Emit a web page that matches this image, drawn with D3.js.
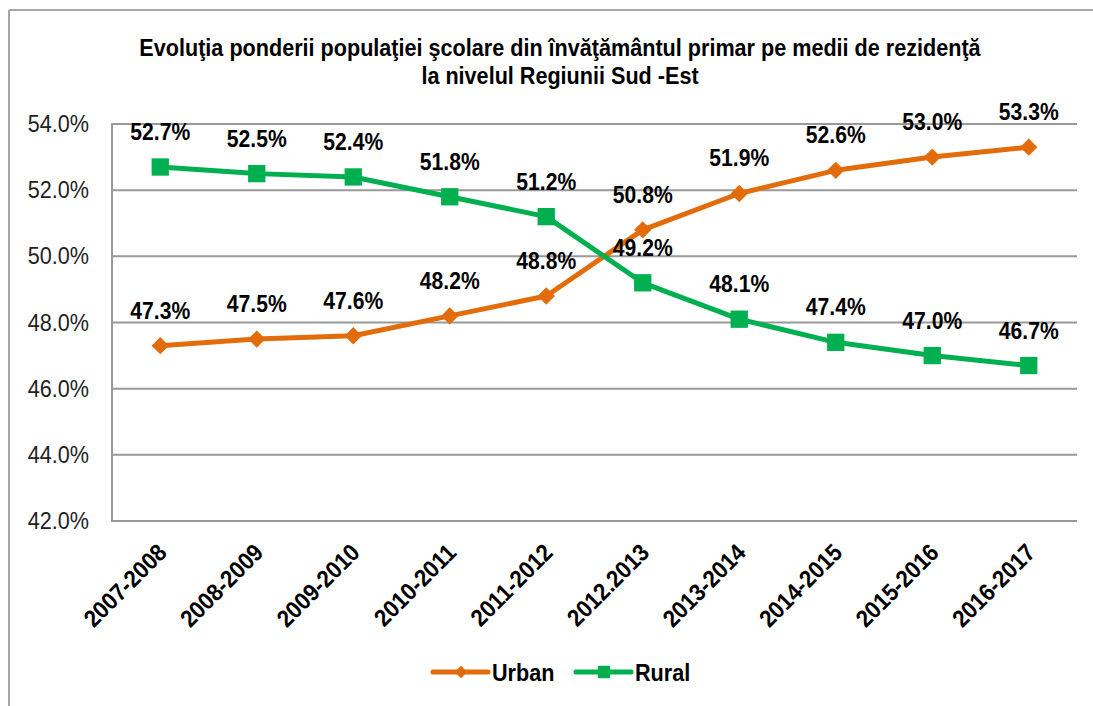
<!DOCTYPE html>
<html>
<head>
<meta charset="utf-8">
<script src="https://cdn.jsdelivr.net/npm/d3@7"></script>
<style>
  body { margin: 0; background: #fff; }
  text { font-family: "Liberation Sans", Arial, sans-serif; }
</style>
</head>
<body>
<script>
var years = ["2007-2008", "2008-2009", "2009-2010", "2010-2011", "2011-2012",
             "2012.2013", "2013-2014", "2014-2015", "2015-2016", "2016-2017"];
var urban = [47.3, 47.5, 47.6, 48.2, 48.8, 50.8, 51.9, 52.6, 53.0, 53.3];
var rural = [52.7, 52.5, 52.4, 51.8, 51.2, 49.2, 48.1, 47.4, 47.0, 46.7];
var y_ticks = [42, 44, 46, 48, 50, 52, 54];

var width = 1093;
var height = 706;
var plot_left = 112, plot_right = 1077, plot_top = 124, plot_bottom = 521;

var svg = d3.select('body').append('svg')
      .attr('width', width)
      .attr('height', height);

// outer frame (only top and left visible)
svg.append('line').attr('x1', 9).attr('x2', width).attr('y1', 10).attr('y2', 10)
    .attr('stroke', '#a6a6a6').attr('stroke-width', 2);
svg.append('line').attr('x1', 9).attr('x2', 9).attr('y1', 10).attr('y2', height)
    .attr('stroke', '#a6a6a6').attr('stroke-width', 2);

var x = d3.scaleBand().domain(years).range([plot_left, plot_right]);
var y = d3.scaleLinear().domain([42, 54]).range([plot_bottom, plot_top]);
var cx = function (i) { return x(years[i]) + x.bandwidth() / 2; };

// gridlines
svg.append('g').selectAll('line')
    .data(y_ticks)
    .enter()
    .append('line')
    .attr('x1', plot_left).attr('x2', plot_right)
    .attr('y1', function (d) { return y(d); })
    .attr('y2', function (d) { return y(d); })
    .attr('stroke', '#999')
    .attr('stroke-width', 2);

svg.append('line').attr('x1', plot_left).attr('x2', plot_left)
    .attr('y1', plot_top - 1).attr('y2', plot_bottom + 1)
    .attr('stroke', '#999').attr('stroke-width', 2);

// y axis labels
svg.append('g').selectAll('text')
    .data(y_ticks)
    .enter()
    .append('text')
    .attr('transform', function (d) {
      return 'translate(89,' + (y(d) + 8) + ') scale(0.9,1)';
    })
    .attr('text-anchor', 'end')
    .attr('font-size', 24)
    .attr('fill', '#222')
    .text(function (d) { return d.toFixed(1) + '%'; });

// x axis labels
svg.append('g').selectAll('text')
    .data(years)
    .enter()
    .append('text')
    .attr('transform', function (d, i) {
      return 'translate(' + (cx(i) + 8) + ',' + (plot_bottom + 33) + ') rotate(-45) scale(0.92,1)';
    })
    .attr('text-anchor', 'end')
    .attr('font-size', 24)
    .attr('font-weight', 'bold')
    .attr('fill', '#000')
    .text(function (d) { return d; });

var series = [
  { name: 'Urban', values: urban, color: '#e36c0a', shape: 'diamond' },
  { name: 'Rural', values: rural, color: '#00b050', shape: 'square' }
];

var marker = function (shape, scale) {
  var size = shape === 'diamond' ? 150 : 300;
  return d3.symbol().type(d3.symbolSquare).size(size * scale * scale)();
};
var marker_rot = function (shape) { return shape === 'diamond' ? ' rotate(45)' : ''; };

var line = d3.line()
    .x(function (d, i) { return cx(i); })
    .y(function (d) { return y(d); });

series.forEach(function (s) {
  svg.append('path')
      .datum(s.values)
      .attr('d', line)
      .attr('fill', 'none')
      .attr('stroke', s.color)
      .attr('stroke-width', 5)
      .attr('stroke-linejoin', 'round');
});

series.forEach(function (s) {
  svg.append('g').selectAll('path')
      .data(s.values)
      .enter()
      .append('path')
      .attr('d', marker(s.shape, 1))
      .attr('transform', function (d, i) {
        return 'translate(' + cx(i) + ',' + y(d) + ')' + marker_rot(s.shape);
      })
      .attr('fill', s.color);
});

// data labels
series.forEach(function (s) {
  svg.append('g').selectAll('text')
      .data(s.values)
      .enter()
      .append('text')
      .attr('transform', function (d, i) {
        return 'translate(' + cx(i) + ',' + (y(d) - 27) + ') scale(0.88,1)';
      })
      .attr('text-anchor', 'middle')
      .attr('font-size', 24)
      .attr('font-weight', 'bold')
      .attr('fill', '#000')
      .text(function (d) { return d.toFixed(1) + '%'; });
});

// title
var title = svg.append('g').attr('transform', 'translate(560,0) scale(0.9,1)');
title.append('text').attr('x', 0).attr('y', 56)
    .attr('text-anchor', 'middle').attr('font-size', 24).attr('font-weight', 'bold')
    .text('Evoluţia ponderii populaţiei şcolare din învăţământul primar pe medii de rezidenţă');
title.append('text').attr('x', 0).attr('y', 84)
    .attr('text-anchor', 'middle').attr('font-size', 24).attr('font-weight', 'bold')
    .text('la nivelul Regiunii Sud -Est');

// legend
var lx = [433, 576];
series.forEach(function (s, i) {
  var g = svg.append('g').attr('transform', 'translate(' + lx[i] + ',672)');
  g.append('line').attr('x1', 0).attr('x2', 55).attr('y1', 0).attr('y2', 0)
      .attr('stroke', s.color).attr('stroke-width', 5).attr('stroke-linecap', 'round');
  g.append('path')
      .attr('d', marker(s.shape, 0.72))
      .attr('transform', 'translate(28,0)' + marker_rot(s.shape))
      .attr('fill', s.color);
  g.append('text').attr('transform', 'translate(59,9) scale(0.9,1)')
      .attr('font-size', 24).attr('font-weight', 'bold').attr('fill', '#000')
      .text(s.name);
});
</script>
</body>
</html>
